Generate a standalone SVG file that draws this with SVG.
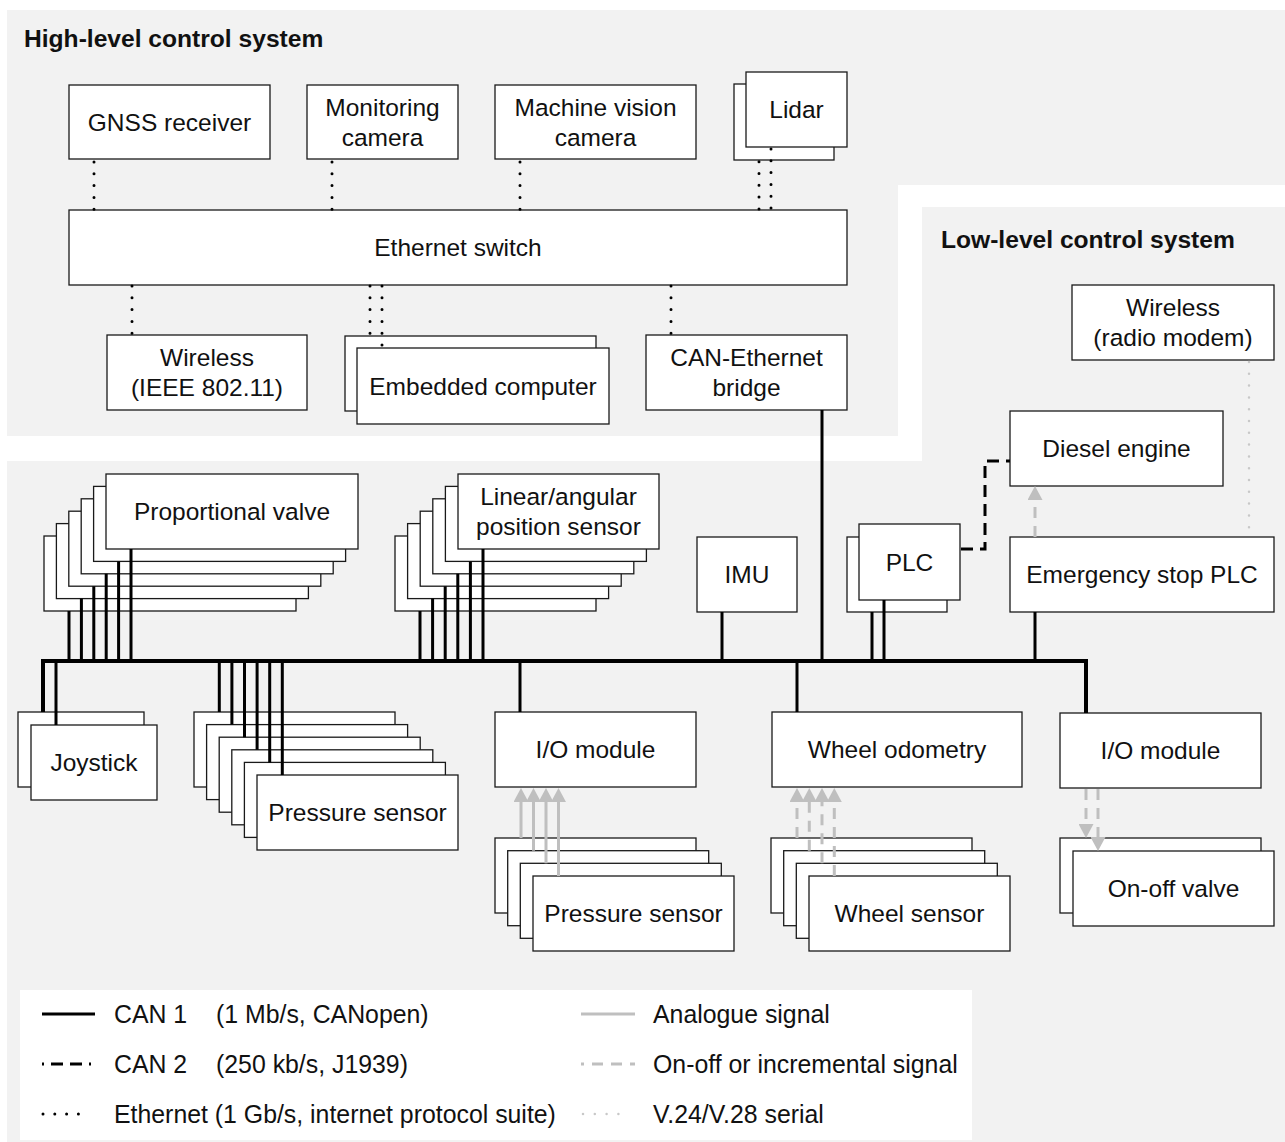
<svg xmlns="http://www.w3.org/2000/svg" width="1285" height="1142" viewBox="0 0 1285 1142">
<defs>
<style>
.panel{fill:#f2f2f2}
.box{fill:#fff;stroke:#1a1a1a;stroke-width:1.3}
.t{font-family:"Liberation Sans",Arial,sans-serif;font-size:24.5px;fill:#111;text-anchor:middle}
.title{font-family:"Liberation Sans",Arial,sans-serif;font-size:24.6px;font-weight:bold;fill:#111}
.lt{font-family:"Liberation Sans",Arial,sans-serif;font-size:24.85px;fill:#111}
.can1{fill:none;stroke:#000;stroke-width:3}
.bus{fill:none;stroke:#000;stroke-width:4}
.can2{fill:none;stroke:#000;stroke-width:3;stroke-dasharray:12 7}
.eth{fill:none;stroke:#000;stroke-width:3;stroke-linecap:round;stroke-dasharray:0 11.8}
.ana{fill:none;stroke:#bfbfbf;stroke-width:3}
.onoff{fill:none;stroke:#bfbfbf;stroke-width:3;stroke-dasharray:11 8}
.ser{fill:none;stroke:#c8c8c8;stroke-width:2.5;stroke-linecap:round;stroke-dasharray:0 11.8}
</style>
<marker id="ah" markerUnits="userSpaceOnUse" markerWidth="14" markerHeight="15" viewBox="0 0 14 15" refX="6" refY="7.5" orient="auto">
<path d="M0,0 L14,7.5 L0,15 Z" fill="#bfbfbf"/>
</marker>
</defs>

<!-- background panels -->
<path class="panel" d="M7,10 H1285 V185 H898 V436 H7 Z"/>
<path class="panel" d="M922,207 H1285 V1142 H7 V461 H922 Z"/>
<text class="title" x="24" y="47">High-level control system</text>
<text class="title" x="941" y="248">Low-level control system</text>

<!-- high-level nodes -->
<g id="gnss"><rect class="box" x="69" y="85" width="201" height="74"/><text class="t" x="169.5" y="130.6">GNSS receiver</text></g>
<g id="moncam"><rect class="box" x="307" y="85" width="151" height="74"/><text class="t" x="382.5" y="115.6">Monitoring</text><text class="t" x="382.5" y="145.6">camera</text></g>
<g id="mvcam"><rect class="box" x="495" y="85" width="201" height="74"/><text class="t" x="595.5" y="115.6">Machine vision</text><text class="t" x="595.5" y="145.6">camera</text></g>
<g id="lidar"><rect class="box" x="734" y="84" width="100" height="76"/><rect class="box" x="746" y="72" width="101" height="75"/><text class="t" x="796.5" y="118">Lidar</text></g>
<g id="switch"><rect class="box" x="69" y="210" width="778" height="75"/><text class="t" x="458" y="256">Ethernet switch</text></g>
<g id="wlan"><rect class="box" x="107" y="335" width="200" height="75"/><text class="t" x="207" y="366">Wireless</text><text class="t" x="207" y="396">(IEEE 802.11)</text></g>
<g id="computer"><rect class="box" x="345" y="336" width="251" height="75"/><rect class="box" x="357" y="348" width="252" height="76"/><text class="t" x="483" y="394.6">Embedded computer</text></g>
<g id="bridge"><rect class="box" x="646" y="335" width="201" height="75"/><text class="t" x="746.5" y="366">CAN-Ethernet</text><text class="t" x="746.5" y="396">bridge</text></g>

<!-- low-level nodes -->
<g id="radio"><rect class="box" x="1072" y="285" width="202" height="75"/><text class="t" x="1173" y="316">Wireless</text><text class="t" x="1173" y="346">(radio modem)</text></g>
<g id="diesel"><rect class="box" x="1010" y="411" width="213" height="75"/><text class="t" x="1116.5" y="457">Diesel engine</text></g>
<g id="estop"><rect class="box" x="1010" y="537" width="264" height="75"/><text class="t" x="1142" y="583">Emergency stop PLC</text></g>
<g id="plc"><rect class="box" x="847" y="537" width="100" height="75"/><rect class="box" x="859" y="524" width="101" height="76"/><text class="t" x="909.5" y="570.6">PLC</text></g>
<g id="imu"><rect class="box" x="697" y="537" width="100" height="75"/><text class="t" x="747" y="583">IMU</text></g>

<g id="propvalve">
<rect class="box" x="44" y="536" width="252" height="75"/>
<rect class="box" x="56.4" y="523.6" width="252" height="75"/>
<rect class="box" x="68.8" y="511.2" width="252" height="75"/>
<rect class="box" x="81.2" y="498.8" width="252" height="75"/>
<rect class="box" x="93.6" y="486.4" width="252" height="75"/>
<rect class="box" x="106" y="474" width="252" height="75"/>
<text class="t" x="232" y="520">Proportional valve</text>
</g>
<g id="possensor">
<rect class="box" x="395" y="536" width="201" height="75"/>
<rect class="box" x="407.6" y="523.6" width="201" height="75"/>
<rect class="box" x="420.2" y="511.2" width="201" height="75"/>
<rect class="box" x="432.8" y="498.8" width="201" height="75"/>
<rect class="box" x="445.4" y="486.4" width="201" height="75"/>
<rect class="box" x="458" y="474" width="201" height="75"/>
<text class="t" x="558.5" y="505">Linear/angular</text>
<text class="t" x="558.5" y="535">position sensor</text>
</g>
<g id="joystick"><rect class="box" x="18" y="712" width="126" height="75"/><rect class="box" x="31" y="725" width="126" height="75"/><text class="t" x="94" y="771">Joystick</text></g>
<g id="canpressure">
<rect class="box" x="194" y="712" width="201" height="75"/>
<rect class="box" x="206.6" y="724.6" width="201" height="75"/>
<rect class="box" x="219.2" y="737.2" width="201" height="75"/>
<rect class="box" x="231.8" y="749.8" width="201" height="75"/>
<rect class="box" x="244.4" y="762.4" width="201" height="75"/>
<rect class="box" x="257" y="775" width="201" height="75"/>
<text class="t" x="357.5" y="821">Pressure sensor</text>
</g>
<g id="io1"><rect class="box" x="495" y="712" width="201" height="75"/><text class="t" x="595.5" y="758">I/O module</text></g>
<g id="odometry"><rect class="box" x="772" y="712" width="250" height="75"/><text class="t" x="897" y="758">Wheel odometry</text></g>
<g id="io2"><rect class="box" x="1060" y="713" width="201" height="75"/><text class="t" x="1160.5" y="759">I/O module</text></g>
<g id="anapressure">
<rect class="box" x="495" y="838" width="201" height="75"/>
<rect class="box" x="507.7" y="850.7" width="201" height="75"/>
<rect class="box" x="520.3" y="863.3" width="201" height="75"/>
<rect class="box" x="533" y="876" width="201" height="75"/>
<text class="t" x="633.5" y="922">Pressure sensor</text>
</g>
<g id="wheelsensor">
<rect class="box" x="771" y="838" width="201" height="75"/>
<rect class="box" x="783.7" y="850.7" width="201" height="75"/>
<rect class="box" x="796.3" y="863.3" width="201" height="75"/>
<rect class="box" x="809" y="876" width="201" height="75"/>
<text class="t" x="909.5" y="922">Wheel sensor</text>
</g>
<g id="onoffvalve"><rect class="box" x="1060" y="838" width="201" height="75"/><rect class="box" x="1073" y="851" width="201" height="75"/><text class="t" x="1173.5" y="897">On-off valve</text></g>

<!-- connectors -->
<g id="connectors">
<!-- Ethernet -->
<path class="eth" d="M94,162 V210 M332,162 V210 M520,162 V210 M759,161.7 V210 M771,149 V210"/>
<path class="eth" d="M132,286 V334 M370,286 V334 M382,286 V346 M671,286 V334"/>
<!-- CAN 1 bus and drops -->
<path class="bus" d="M43,712 V661 H1086 V713"/>
<path class="can1" d="M56,661 V725 M822,410 V661 M722,612 V661 M872,612 V661 M884,600 V661 M1035,612 V661 M520,661 V712 M797,661 V712"/>
<path class="can1" d="M69,611 V661 M81.4,598.6 V661 M93.8,586.2 V661 M106.2,573.8 V661 M118.6,561.4 V661 M131,549 V661"/>
<path class="can1" d="M420,611 V661 M432.6,598.6 V661 M445.2,586.2 V661 M457.8,573.8 V661 M470.4,561.4 V661 M483,549 V661"/>
<path class="can1" d="M219.3,661 V712 M231.9,661 V724.6 M244.5,661 V737.2 M257.1,661 V749.8 M269.7,661 V762.4 M282.3,661 V775"/>
<!-- CAN 2 -->
<path class="can2" d="M961,549 H985 V461 H1010"/>
<!-- analogue -->
<path class="ana" marker-end="url(#ah)" d="M521,838 V796"/>
<path class="ana" marker-end="url(#ah)" d="M533.5,850.7 V796"/>
<path class="ana" marker-end="url(#ah)" d="M546,863.3 V796"/>
<path class="ana" marker-end="url(#ah)" d="M558.5,876 V796"/>
<!-- on-off / incremental -->
<path class="onoff" marker-end="url(#ah)" d="M797,838 V796"/>
<path class="onoff" marker-end="url(#ah)" d="M809.3,850.7 V796"/>
<path class="onoff" marker-end="url(#ah)" d="M822,863.3 V796"/>
<path class="onoff" marker-end="url(#ah)" d="M834.3,876 V796"/>
<path class="onoff" marker-end="url(#ah)" d="M1086,789 V830"/>
<path class="onoff" marker-end="url(#ah)" d="M1098,789 V843"/>
<path class="onoff" marker-end="url(#ah)" d="M1035,537 V494"/>
<!-- serial -->
<path class="ser" d="M1249,362 V536"/>
</g>

<!-- legend -->
<g id="legend">
<rect x="20" y="990" width="952" height="150" fill="#fff"/>
<path class="can1" d="M42,1014 H95"/>
<path class="can2" stroke-dashoffset="10" d="M42,1064 H91"/>
<path class="eth" stroke-width="2.6" stroke-dasharray="0 9.6" d="M43,1114 H82"/>
<path class="ana" d="M581,1014 H635"/>
<path class="onoff" stroke-dashoffset="8" d="M581,1064 H635"/>
<path class="ser" stroke-dasharray="0 9.6" d="M583,1114 H624"/>
<text class="lt" x="114" y="1023">CAN 1</text><text class="lt" x="216" y="1023">(1 Mb/s, CANopen)</text>
<text class="lt" x="114" y="1073">CAN 2</text><text class="lt" x="216" y="1073">(250 kb/s, J1939)</text>
<text class="lt" x="114" y="1123">Ethernet (1 Gb/s, internet protocol suite)</text>
<text class="lt" x="653" y="1023">Analogue signal</text>
<text class="lt" x="653" y="1073">On-off or incremental signal</text>
<text class="lt" x="653" y="1123">V.24/V.28 serial</text>
</g>
</svg>
